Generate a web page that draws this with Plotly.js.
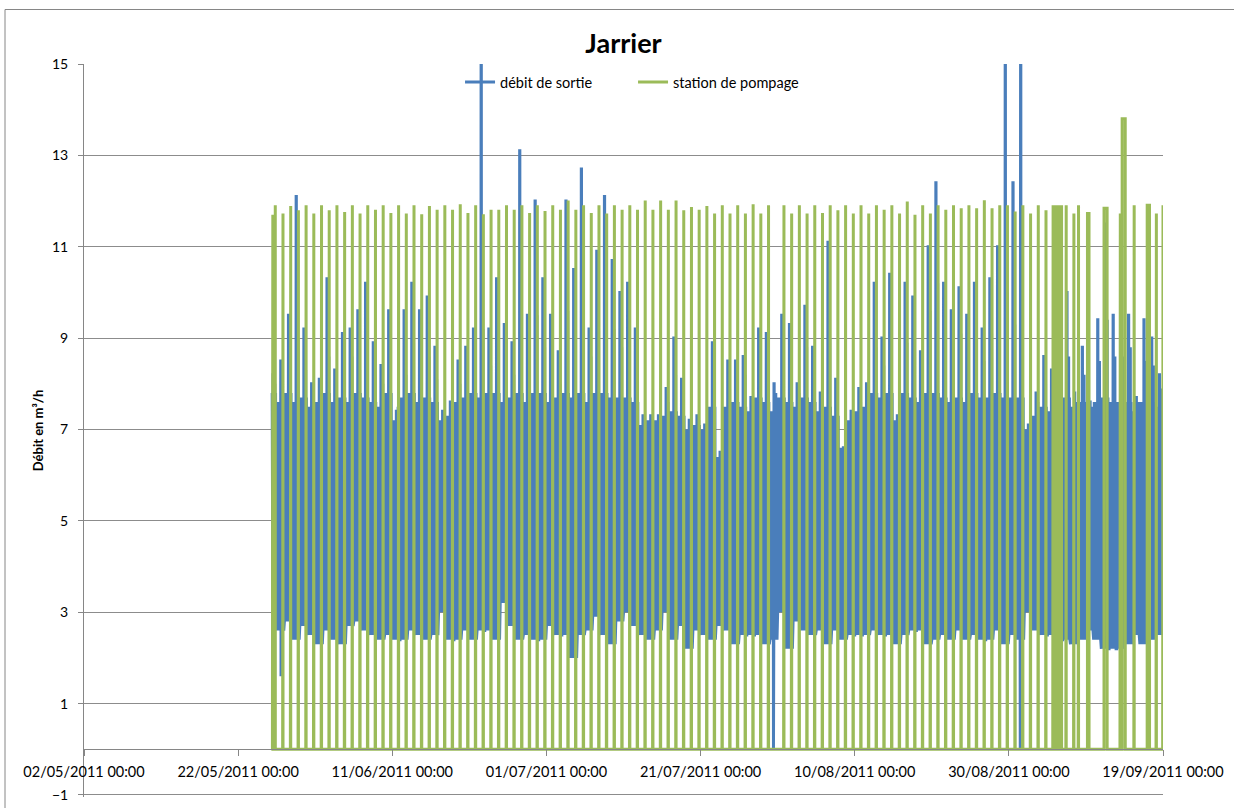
<!DOCTYPE html>
<html><head><meta charset="utf-8">
<script src="https://cdn.plot.ly/plotly-3.0.1.min.js"></script>
<style>html,body{margin:0;padding:0;background:#fff}#chart{width:1234px;height:808px}</style>
</head><body><div id="chart"></div>
<script>
// Day index 0 = 26/05/2011 00:00
const seriesNames = ['débit de sortie', 'station de pompage'];
const xTickStart = '2011-05-02';
const xEnd = '2011-09-19';

// débit de sortie: daily maximum, secondary daily spike, upper level of the daily band, lower envelope
const bluePeak = [8.2,8.5,9.5,12.1,9.2,8.0,8.1,10.3,8.3,9.1,
  9.2,9.6,10.2,8.9,8.4,9.6,7.4,9.6,10.2,9.6,
  9.9,8.8,7.4,7.6,8.5,8.8,9.2,17,9.2,10.3,
  9.3,8.9,13.1,9.5,12.0,10.3,9.5,8.7,12.0,10.5,
  12.7,9.2,10.9,12.1,10.7,10.0,10.2,9.2,7.3,7.3,
  7.3,7.9,9.0,8.1,7.2,7.3,7.1,8.9,6.5,8.5,
  8.5,8.6,7.7,9.2,9.1,8.0,9.5,9.3,8.0,9.7,
  8.8,7.8,11.1,8.1,6.6,7.4,7.9,8.0,10.2,9.0,
  10.4,7.3,10.2,9.9,8.7,11.0,12.4,10.2,9.6,10.1,
  9.5,10.2,9.2,10.3,11.0,17,12.4,17,7.1,7.8,
  8.6,8.3,7.6,10.0,7.8,8.8,7.6,9.4,11.5,9.5,
  9.6,9.5,7.7,9.4,9.0,8.2];
const blueSecond = [8.0,8.1,8.4,9.0,8.3,7.8,7.9,8.6,8.0,8.3,
  8.6,8.3,9.0,8.2,8.0,8.4,7.5,8.2,8.9,8.5,
  8.6,8.1,7.4,7.6,8.0,8.2,8.6,9.2,8.4,9.0,
  8.5,8.2,9.4,8.6,9.5,8.8,8.4,8.0,9.6,9.0,
  10.2,8.6,9.4,10.0,9.2,8.8,8.9,8.4,7.2,7.3,
  7.2,7.6,8.2,7.8,7.1,7.2,7.0,8.0,6.4,7.9,
  8.0,8.2,7.6,8.4,8.5,7.8,8.6,8.5,7.8,8.8,
  8.2,7.6,9.0,7.9,6.6,7.3,7.6,7.8,8.8,8.4,
  9.2,7.2,8.9,8.8,8.2,9.6,10.2,9.0,8.7,9.1,
  8.6,9.3,8.5,9.1,9.6,10.0,9.3,10.5,7.1,7.6,
  8.0,7.9,7.5,8.6,7.6,8.2,7.5,8.5,9.4,8.6,
  8.6,8.8,7.6,8.5,8.4,7.9];
const blueMid = [7.8,7.6,7.8,7.6,7.7,7.5,7.6,7.8,7.6,7.7,
  7.6,7.8,7.7,7.6,7.5,7.8,7.2,7.7,7.8,7.6,
  7.7,7.6,7.2,7.3,7.6,7.7,7.8,7.7,7.8,7.8,
  7.6,7.7,7.8,7.6,7.8,7.8,7.6,7.7,7.8,7.7,
  7.8,7.6,7.8,7.8,7.7,7.7,7.7,7.6,7.1,7.2,
  7.2,7.3,7.4,7.3,7.0,7.1,7.0,7.5,6.4,7.5,
  7.6,7.5,7.4,7.7,7.6,7.4,7.7,7.6,7.5,7.7,
  7.6,7.4,7.5,7.3,6.6,7.2,7.4,7.5,7.8,7.7,
  7.8,7.2,7.8,7.7,7.6,7.8,7.8,7.7,7.6,7.7,
  7.6,7.8,7.7,7.7,7.8,7.7,7.7,7.7,7.0,7.3,
  7.5,7.4,7.4,7.7,7.5,7.6,7.4,7.6,7.7,7.6,
  7.6,7.6,7.4,7.6,7.6,7.5];
const blueLow = [3.3,2.6,2.8,2.4,2.7,2.5,2.3,2.6,2.4,2.3,
  2.7,2.8,2.6,2.5,2.4,2.5,2.4,2.4,2.6,2.5,
  2.4,2.5,3.0,2.4,2.4,2.6,2.4,2.6,2.6,2.4,
  3.2,2.7,2.4,2.5,2.4,2.4,2.7,2.5,2.5,2.0,
  2.5,2.6,2.9,2.5,2.3,2.8,3.0,2.7,2.5,2.4,
  2.6,3.0,2.4,2.7,2.2,2.6,2.5,2.4,2.7,2.6,
  2.3,2.5,2.5,2.5,2.3,2.4,3.0,2.2,2.8,2.6,
  2.5,2.6,2.3,2.6,2.4,2.5,2.5,2.5,2.6,2.5,
  2.5,2.3,2.5,2.6,2.6,2.3,2.4,2.5,2.4,2.6,
  2.4,2.5,2.4,2.4,2.6,2.3,2.5,2.4,3.0,2.6,
  2.5,2.5,2.4,2.4,2.3,2.4,2.6,2.4,2.2,2.2,
  2.2,2.3,2.5,2.3,2.4,2.5];
// isolated drops of the outflow
const blueDipDay = [1, 65, 97];
const blueDipHour = [13.5, 11, 11.5];
const blueDipValue = [1.6, 0, 0];
const blueFirstHour = 10;

// station de pompage: one pump run per day (regular part), then irregular runs
const greenDailyHour = 18.7;
const greenPeak = [11.91,11.73,11.89,11.8,11.91,11.73,11.91,11.8,11.91,11.76,
  11.91,11.73,11.91,11.81,11.91,11.74,11.91,11.73,11.91,11.71,
  11.89,11.81,11.91,11.81,11.93,11.74,11.91,11.71,11.81,11.81,
  11.91,11.81,11.91,11.74,11.91,11.78,11.91,
  11.81,12.01,11.81,11.91,11.74,11.91,11.73,11.91,11.81,11.91,
  11.81,12.01,11.81,12.01,11.81,12.01,11.8,11.87,11.81,11.89,
  11.73,11.91,11.73,11.91,11.73,11.93,11.73,11.91,0,11.91,
  11.73,11.91,11.73,11.91,11.74,11.91,11.8,
  11.91,11.73,11.91,11.73,11.91,11.81,11.91,11.73,11.99,11.70,
  11.91,11.73,11.91,11.81,11.91,11.84,11.91,11.84,12.02,11.84,
  11.91,11.91,11.77,11.91,11.73,11.91,11.80];
const greenExtraOn   = [0.45, 101.70,101.80,101.90,102.00,102.10,102.20,102.30,102.40,102.50,102.60,102.70,102.80, 103.40, 104.40, 105.00, 106.20, 108.35, 110.42, 110.70, 112.22, 113.95, 115.10, 115.96];
const greenExtraOff  = [0.50, 101.74,101.84,101.94,102.04,102.14,102.24,102.34,102.44,102.54,102.64,102.74,102.84, 103.44, 104.44, 105.04, 106.40, 108.75, 110.46, 111.10, 112.26, 114.25, 115.14, 116.00];
const greenExtraPeak = [11.7, 11.91,11.91,11.91,11.91,11.91,11.91,11.91,11.91,11.91,11.91,11.91,11.91, 11.91, 11.73, 11.91, 11.73, 11.84, 11.73, 13.8, 11.91, 11.91, 11.73, 11.91];

const DAY = 86400000;
const T0 = Date.UTC(2011, 4, 26);
function toDate(d) { return new Date(T0 + d * DAY).toISOString().replace('T', ' ').replace('Z', ''); }

// build outflow series
const bluePts = [];
const pattern = [[0,'L'],[2,'M'],[4,'L'],[6,'M'],[8,'L'],[10,'M'],[12,'L'],[12.6,'P'],[13.2,'P'],[13.8,'L'],
  [15,'M'],[16.5,'L'],[17.7,'S'],[18.2,'S'],[19,'L'],[20.5,'M'],[22,'L']];
for (let d = 0; d < bluePeak.length; d++) {
  for (const [h, k] of pattern) {
    if (d === 0 && h < blueFirstHour) continue;
    const v = k === 'L' ? blueLow[d] : k === 'M' ? blueMid[d] : k === 'S' ? blueSecond[d] : bluePeak[d];
    bluePts.push([d + h / 24, v]);
  }
}
for (let i = 0; i < blueDipDay.length; i++) bluePts.push([blueDipDay[i] + blueDipHour[i] / 24, blueDipValue[i]]);
bluePts.sort((a, b) => a[0] - b[0]);

// build pumping series
const pulses = [];
for (let k = 0; k < greenPeak.length; k++) {
  if (greenPeak[k] > 0) pulses.push([k + greenDailyHour / 24, k + greenDailyHour / 24 + 0.04, greenPeak[k]]);
}
for (let i = 0; i < greenExtraOn.length; i++) pulses.push([greenExtraOn[i], greenExtraOff[i], greenExtraPeak[i]]);
pulses.sort((a, b) => a[0] - b[0]);
const greenPts = [];
for (const [on, off, p] of pulses) {
  greenPts.push([on - 0.004, 0], [on, p], [off, p], [off + 0.004, 0]);
}

const traces = [
  {x: bluePts.map(p => toDate(p[0])), y: bluePts.map(p => p[1]), name: seriesNames[0], type: 'scatter', mode: 'lines',
   line: {color: '#4a7ebb', width: 3}, cliponaxis: true},
  {x: greenPts.map(p => toDate(p[0])), y: greenPts.map(p => p[1]), name: seriesNames[1], type: 'scatter', mode: 'lines',
   line: {color: '#9bbb59', width: 3}, cliponaxis: true}
];

const layout = {
  width: 1234, height: 808,
  margin: {l: 84, r: 71, t: 64, b: 11},
  paper_bgcolor: '#ffffff', plot_bgcolor: 'rgba(0,0,0,0)',
  font: {family: 'Lato, "Open Sans", sans-serif', size: 14, color: '#000'},
  title: {text: '<b>Jarrier</b>', x: 0.5, xref: 'paper', xanchor: 'center', y: 1 - 44 / 808, yref: 'container', yanchor: 'middle',
    font: {family: 'Lato, sans-serif', size: 27, color: '#000'}},
  showlegend: true,
  legend: {orientation: 'h', x: 0.3485, y: 0.997, xanchor: 'left', yanchor: 'top', bgcolor: 'rgba(0,0,0,0)',
    font: {size: 14.5, color: '#000'}, traceorder: 'normal', entrywidth: 128, entrywidthmode: 'pixels'},
  xaxis: {type: 'date', range: [xTickStart, xEnd], tick0: xTickStart, dtick: 20 * DAY, tickformat: '%d/%m/%Y %H:%M',
    showgrid: false, showline: true, linecolor: '#868686', linewidth: 1, ticks: 'outside', ticklen: 6, tickcolor: '#868686',
    anchor: 'free', position: 0.0652, zeroline: false, tickfont: {size: 14.5, color: '#000'}, ticklabelstandoff: 3},
  yaxis: {range: [-1.044, 15], tick0: -1, dtick: 2, showgrid: true, gridcolor: '#8c8c8c', gridwidth: 1,
    showline: true, linecolor: '#868686', linewidth: 1, ticks: 'outside', ticklen: 5, tickcolor: '#868686', zeroline: false,
    tickfont: {size: 14, color: '#000'}, ticklabelstandoff: 7,
    title: {text: '<b>Débit en m³/h</b>', font: {size: 13, color: '#000'}, standoff: 5}},
  shapes: [
    {type: 'rect', xref: 'paper', yref: 'paper', x0: (5 - 84) / 1079, x1: (1240 - 84) / 1079,
      y0: -0.03, y1: (797 - 9.5) / 733, line: {color: '#868686', width: 1}, fillcolor: 'rgba(0,0,0,0)', layer: 'below'}
  ]
};

Plotly.newPlot('chart', traces, layout, {staticPlot: true, displayModeBar: false});
</script>
</body></html>
